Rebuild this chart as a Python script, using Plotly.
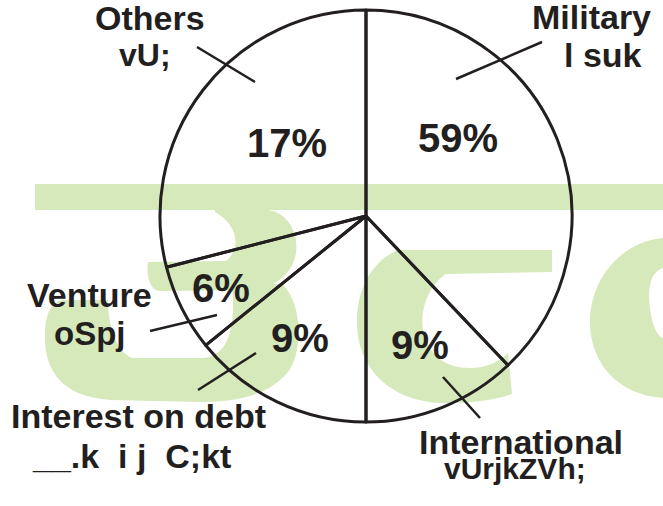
import re
import plotly.graph_objects as go

# ---------------- data ----------------
categories = ["Military", "International", "Interest on debt", "Venture", "Others"]
hindi_labels = ["l suk", "vUrjkZVh;", "__.k  i j  C;kt", "oSpj", "vU;"]
printed_percent = [59, 9, 9, 6, 17]
# angular share of each wedge as it is drawn in the picture (percent of the circle)
slice_share = [37.9, 12.1, 14.2, 6.8, 29.0]

# ---------------- layout helpers ----------------
FW, FH = 663, 506
INK = "#231f20"
GREEN = "#d5e9bb"


def X(x):
    return x / FW


def Y(y):
    return 1 - y / FH


def to_paper_path(p):
    toks = re.findall(r"[MLCQZ]|-?\d+\.?\d*", p)
    out, nums = [], []
    for t in toks:
        if t in "MLCQZ":
            out.append(t)
        else:
            nums.append(float(t))
            if len(nums) == 2:
                out.append(f"{X(nums[0]):.5f},{Y(nums[1]):.5f}")
                nums = []
    return " ".join(out)


# pie placement (pixels)
CX, CY, R = 366, 216, 206

fig = go.Figure(
    go.Pie(
        labels=categories,
        values=slice_share,
        sort=False,
        direction="clockwise",
        rotation=0,
        textinfo="none",
        hoverinfo="skip",
        showlegend=False,
        marker=dict(colors=["rgba(0,0,0,0)"] * len(categories), line=dict(color=INK, width=3)),
        domain=dict(x=[X(CX - R), X(CX + R)], y=[Y(CY + R), Y(CY - R)]),
    )
)

# ---------------- green watermark (decoration, behind the pie) ----------------
shapes = []
shapes.append(dict(type="rect", xref="paper", yref="paper", layer="below",
                   x0=X(35), x1=X(680), y0=Y(210), y1=Y(184),
                   fillcolor=GREEN, line=dict(width=0)))
green_paths = [
    # left glyph, upper part
    "M 215 210 L 268 210 C 296 214 306 252 286 274 C 276 284 266 289 250 290 "
    "L 160 291 C 150 291 146 276 148 262 L 226 261 C 240 250 240 226 215 212 Z",
    # left glyph, lower bowl
    "M 232 284 L 282 284 C 302 302 304 350 288 372 C 268 396 236 402 200 402 "
    "L 110 400 C 62 396 45 372 45 336 C 45 316 50 303 62 300 L 108 300 "
    "C 108 322 114 350 132 358 L 205 358 C 228 354 236 330 232 284 Z",
    # right glyph
    "M 398 250 L 552 250 L 552 272 L 446 274 C 428 286 420 310 423 330 "
    "C 428 356 446 368 470 368 C 488 368 500 361 508 353 L 512 394 "
    "C 490 401 470 403 445 403 C 395 403 357 372 357 322 C 357 286 374 260 398 250 Z",
    # far-right glyph
    "M 680 238 L 663 238 C 620 242 590 280 590 322 C 590 365 620 395 663 398 L 680 398 L 680 338 "
    "L 663 338 C 652 335 647 300 650 285 C 652 275 657 270 663 268 L 680 268 Z",
]
for p in green_paths:
    shapes.append(dict(type="path", xref="paper", yref="paper", layer="below",
                       path=to_paper_path(p), fillcolor=GREEN, line=dict(width=0)))

# ---------------- leader lines ----------------
leaders = {
    "Military": ((456, 79), (542, 42)),
    "International": ((443, 377), (480, 418)),
    "Interest on debt": ((256, 353), (198, 390)),
    "Venture": ((217, 315), (150, 331)),
    "Others": ((255, 82), (197, 47)),
}
for cat in categories:
    (x0, y0), (x1, y1) = leaders[cat]
    shapes.append(dict(type="line", xref="paper", yref="paper", layer="above",
                       x0=X(x0), y0=Y(y0), x1=X(x1), y1=Y(y1),
                       line=dict(color=INK, width=2.5)))

# ---------------- text positions (pixels) ----------------
pct_pos = {
    "Military": (458, 138),
    "International": (420, 345),
    "Interest on debt": (300, 338),
    "Venture": (221, 288),
    "Others": (287, 143),
}
eng_pos = {
    "Military": (591, 17),
    "International": (521, 442),
    "Interest on debt": (138, 416),
    "Venture": (89, 295),
    "Others": (150, 18),
}
hin_pos = {
    "Military": (603, 55),
    "International": (515, 468),
    "Interest on debt": (131, 456),
    "Venture": (90, 333),
    "Others": (145, 55),
}
hin_size = {
    "Military": 34,
    "International": 30,
    "Interest on debt": 34,
    "Venture": 33,
    "Others": 32,
}

ann = []
for cat, hin, pct in zip(categories, hindi_labels, printed_percent):
    x, y = pct_pos[cat]
    ann.append(dict(x=X(x), y=Y(y), xref="paper", yref="paper", text=f"{pct}%",
                    showarrow=False, xanchor="center", yanchor="middle",
                    font=dict(family="Liberation Sans, Arial", size=40, color=INK, weight="bold")))
    x, y = eng_pos[cat]
    ann.append(dict(x=X(x), y=Y(y), xref="paper", yref="paper", text=cat,
                    showarrow=False, xanchor="center", yanchor="middle",
                    font=dict(family="Liberation Sans, Arial", size=34, color=INK, weight="bold")))
    x, y = hin_pos[cat]
    ann.append(dict(x=X(x), y=Y(y), xref="paper", yref="paper", text=hin.replace("  ", "\u00a0 "),
                    showarrow=False, xanchor="center", yanchor="middle",
                    font=dict(family="Liberation Sans, Arial", size=hin_size[cat], color=INK,
                              weight="bold")))

fig.update_layout(
    width=FW, height=FH,
    margin=dict(l=0, r=0, t=0, b=0),
    paper_bgcolor="white", plot_bgcolor="white",
    shapes=shapes, annotations=ann,
)

# remove the default 8px page margin so the figure fills the window exactly
fig.write_html("out.html", config={"displayModeBar": False},
               post_script="document.body.style.margin='0';")
